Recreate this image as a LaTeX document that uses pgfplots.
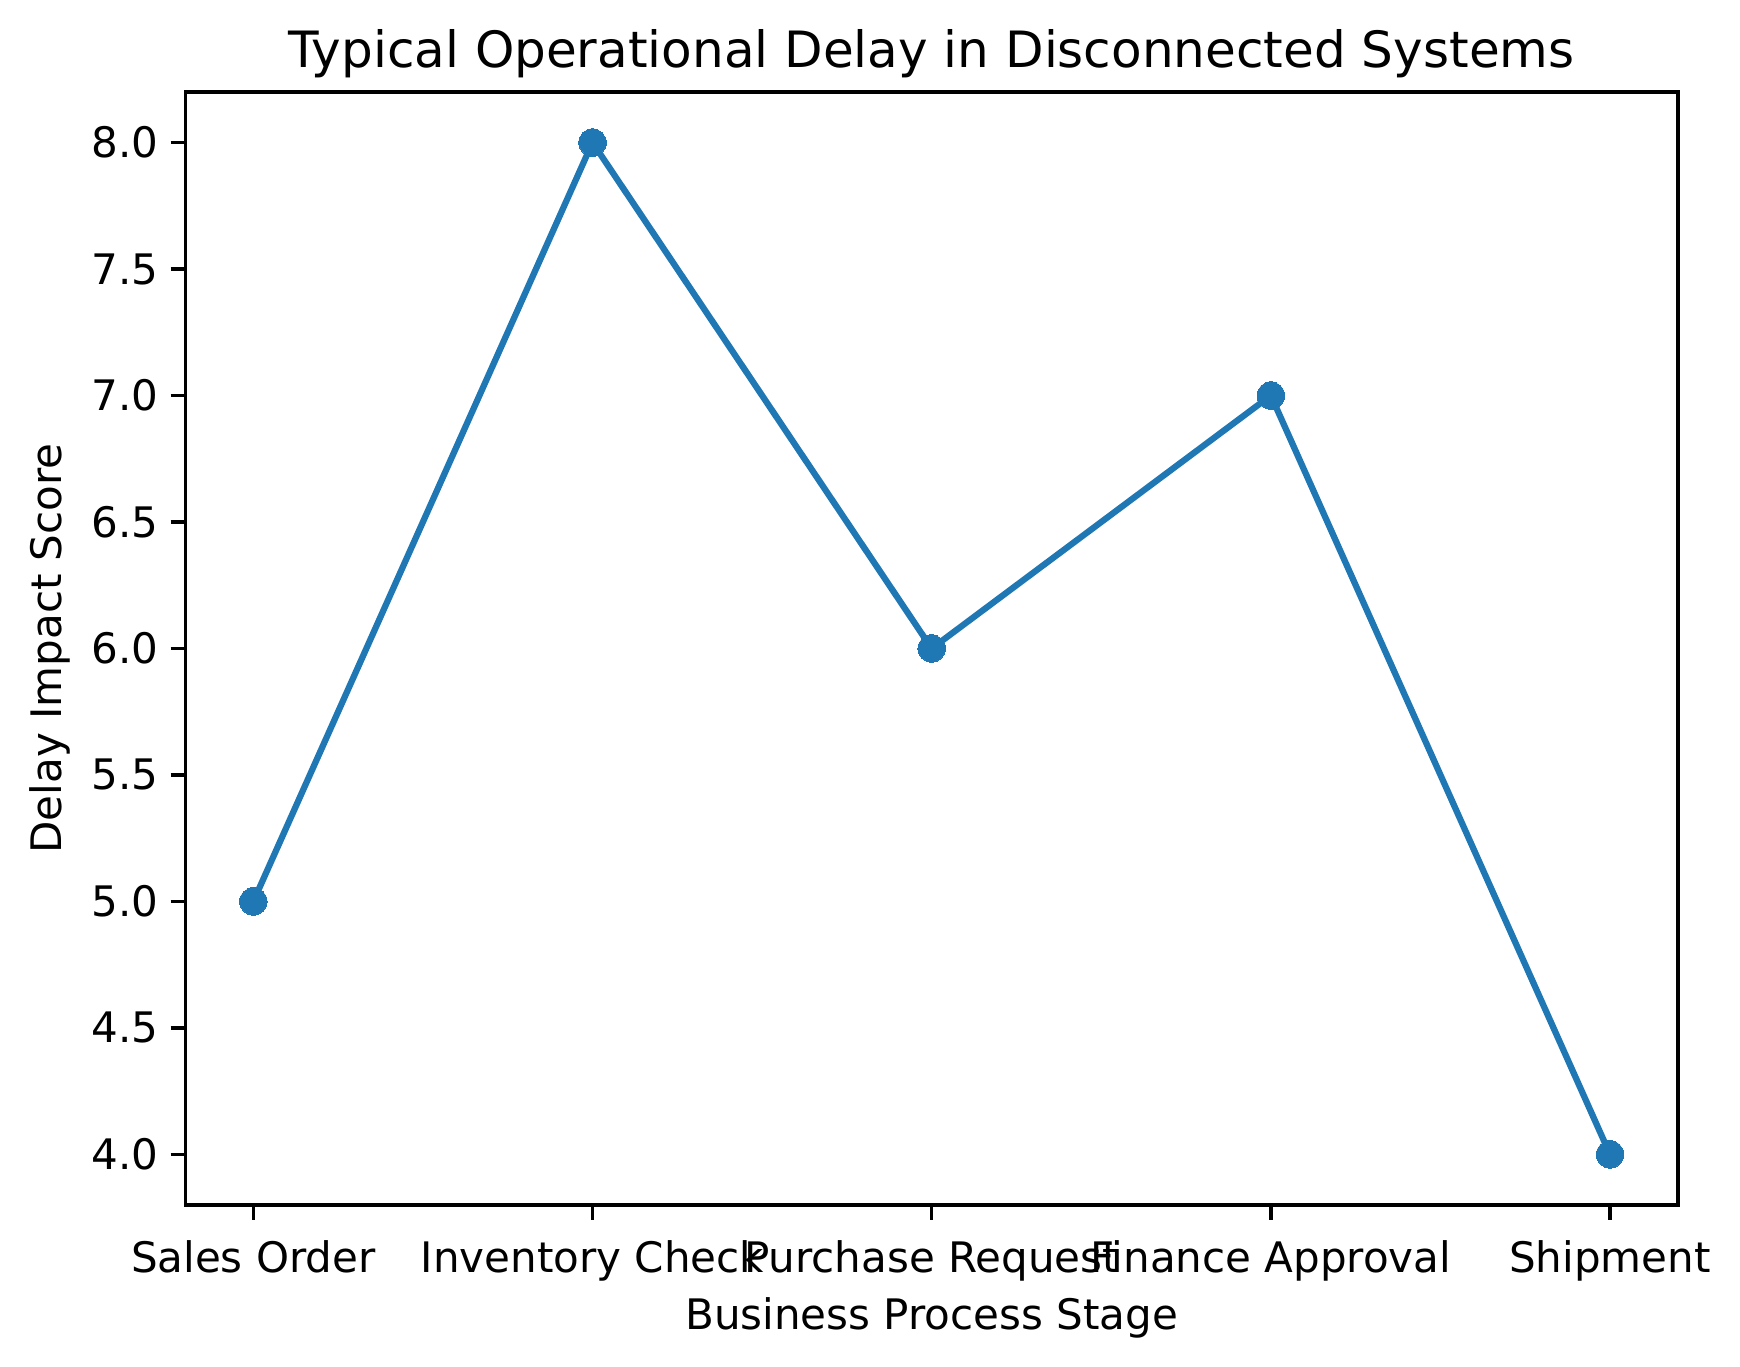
\documentclass[border=0pt]{standalone}
\usepackage{fontspec}
\setmainfont{DejaVu Sans}
\usepackage{pgfplots}
\pgfplotsset{compat=1.18}
\definecolor{mplblue}{HTML}{1F77B4}
\begin{document}
\begin{tikzpicture}
\useasboundingbox (-48.56pt,-42.15pt) rectangle (406.96pt,315.47pt);
\begin{axis}[
 at={(0,0)}, anchor=south west,
 scale only axis, width=390.7pt, height=291.4pt,
 xmin=-0.2, xmax=4.2, ymin=3.8, ymax=8.2,
 xtick={0,1,2,3,4},
 xticklabels={Sales Order, Inventory Check, Purchase Request, Finance Approval, Shipment},
 ytick={4,4.5,5,5.5,6,6.5,7,7.5,8},
 yticklabel style={/pgf/number format/fixed, /pgf/number format/fixed zerofill, /pgf/number format/precision=1, anchor=east, inner sep=0pt, xshift=-3pt},
 /pgf/number format/assume math mode=true,
 tick align=outside, major tick length=3.9pt, tick style={black, line width=0.87pt},
 axis line style={line width=0.87pt},
 xtick pos=bottom, ytick pos=left,
 tick label style={font=\fontsize{11}{13}\selectfont},
 xticklabel style={anchor=base, yshift=-13.7pt},
 label style={font=\fontsize{11}{13}\selectfont},
 title style={font=\fontsize{13.1}{15}\selectfont, at={(0.5,1)}, anchor=base, yshift=0.4pt},
 title={Typical Operational Delay in Disconnected Systems},
 xlabel={Business Process Stage}, ylabel={Delay Impact Score},
 xlabel style={at={(0.5,0)}, anchor=base, yshift=-32.7pt},
 ylabel style={yshift=2.0pt},
]
\addplot[mplblue, line width=1.64pt, mark=*, mark size=3.6pt, mark options={fill=mplblue, draw=mplblue, line width=0pt}] coordinates {(0,5)(1,8)(2,6)(3,7)(4,4)};
\end{axis}
\end{tikzpicture}
\end{document}
